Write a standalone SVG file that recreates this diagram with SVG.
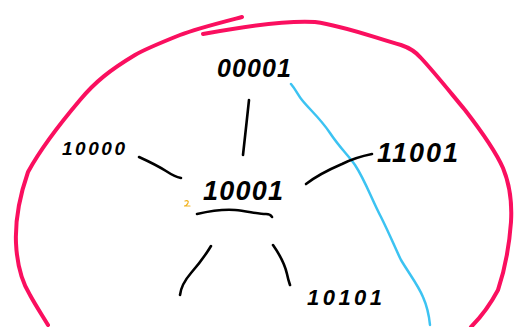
<svg xmlns="http://www.w3.org/2000/svg" width="518" height="327" viewBox="0 0 518 327">
<style>
.ink{fill:none;stroke:#000;stroke-width:2.6;stroke-linecap:round;stroke-linejoin:round}
.red{fill:none;stroke:#fa0f5f;stroke-width:4;stroke-linecap:round;stroke-linejoin:round}
.blue{fill:none;stroke:#3cc3f2;stroke-width:2.5;stroke-linecap:round;stroke-linejoin:round}
.lbl{font-family:"Liberation Sans",Arial,sans-serif;font-weight:bold;fill:#000;font-style:italic}
</style>
<rect width="518" height="327" fill="#fff"/>
<g id="boundary">
<path class="red" d="M242,17 C215,24 195,29 180,35 C160,43 145,49 135,55 C110,70 95,82 80,100 C58,126 40,150 28,172 C20,195 15,220 16,243 C17,265 22,282 30,295 C36,306 42,315 48,325"/>
<path class="red" d="M203,34 C235,28 280,20 315,22 C345,26 375,38 401,45 C410,48 416,52 421,58 C435,73 450,92 465,110 C482,132 495,150 503,168 C510,185 512,205 511,222 C509,250 504,272 498,290 C490,305 480,318 471,327"/>
<path class="blue" d="M291,84 C296,90 298,95 302,100 C310,110 320,118 330,133 C340,148 348,155 355,165 C365,180 372,200 381,217 C390,235 396,250 401,260 C410,275 418,285 423,297 C427,306 429,315 430,325"/>
</g>
<g id="connectors">
<path class="ink" d="M249,100 C247,118 245,138 243,155"/>
<path class="ink" d="M139,157 C150,162 158,166 166,171 C172,175 176,177 181,178"/>
<path class="ink" d="M306,184 C315,177 328,170 342,164 C352,159 362,156 372,154"/>
<path class="ink" d="M211,246 C205,256 198,265 191,273 C185,280 181,286 180,295"/>
<path class="ink" d="M273,245 C280,255 285,265 287,274 C288,279 289,282 290,285"/>
</g>
<g id="n00001"><text class="lbl" x="217" y="77" font-size="25" textLength="74" lengthAdjust="spacing">00001</text></g>
<g id="n10000"><text class="lbl" x="62" y="155" font-size="19" textLength="63" lengthAdjust="spacing">10000</text></g>
<g id="n10001">
<text class="lbl" x="203" y="200" font-size="27" textLength="80" lengthAdjust="spacing">10001</text>
<path class="ink" d="M197,214 C210,211 222,209 235,210 C247,211 258,214 266,214 C269,214 271,215 272,217"/>
<path d="M185,201 C187,200 189,201 188,203 C187,205 185,206 184,206 L190,206" fill="none" stroke="#f2b320" stroke-width="1.2" stroke-linecap="round"/>
</g>
<g id="n11001"><text class="lbl" x="377" y="162" font-size="27" textLength="81" lengthAdjust="spacing">11001</text></g>
<g id="n10101"><text class="lbl" x="307" y="305" font-size="22" textLength="75" lengthAdjust="spacing">10101</text></g>
</svg>
